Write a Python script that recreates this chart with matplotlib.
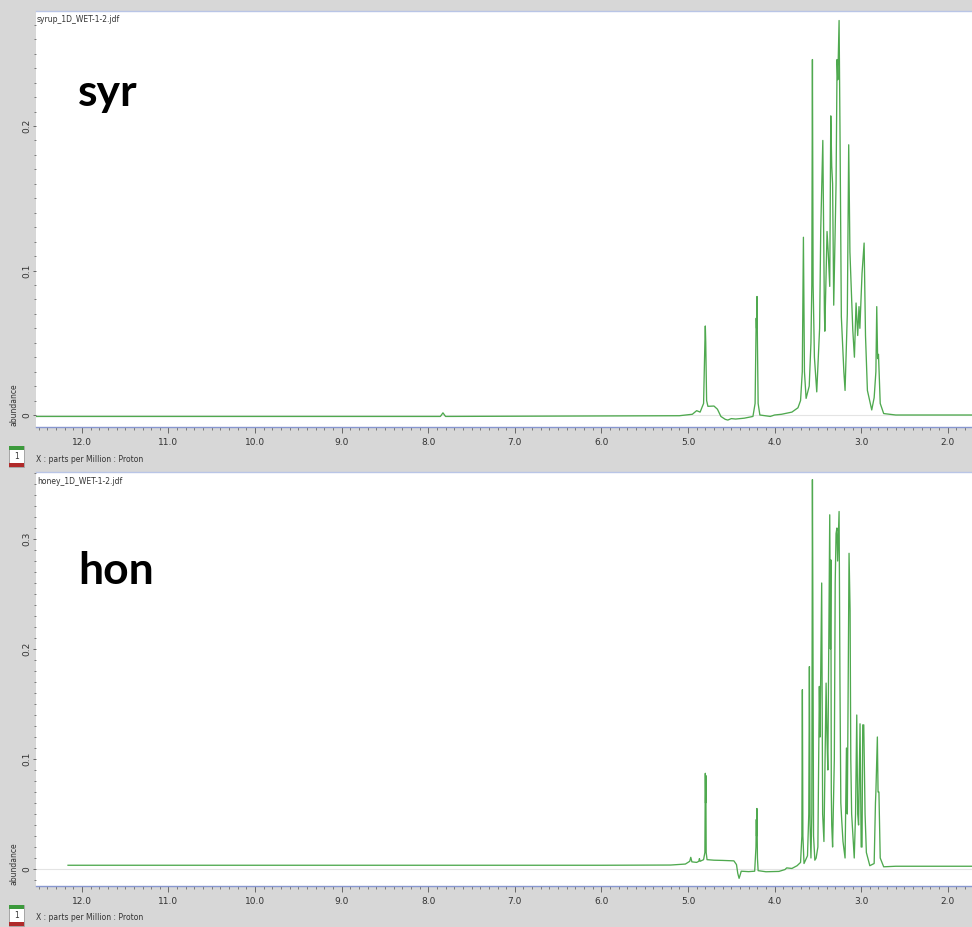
import matplotlib.pyplot as plt
from matplotlib.patches import Rectangle
from matplotlib.ticker import MultipleLocator

plt.rcParams['font.family'] = ['Liberation Sans Narrow', 'DejaVu Sans']

# syrup spectrum, vertices (ppm, abundance)
syr_ppm = [12.53, 7.86, 7.83, 7.80, 5.10, 4.95, 4.90, 4.86, 4.82, 4.805, 4.80, 4.795,
           4.785, 4.77, 4.70, 4.66, 4.62, 4.57, 4.54, 4.50, 4.45, 4.35, 4.25, 4.225,
           4.215, 4.212, 4.208, 4.203, 4.198, 4.19, 4.17, 4.05, 4.00, 3.92, 3.80, 3.73,
           3.70, 3.68, 3.667, 3.655, 3.636, 3.60, 3.58, 3.57, 3.563, 3.555, 3.54, 3.513,
           3.48, 3.467, 3.443, 3.425, 3.42, 3.394, 3.38, 3.363, 3.351, 3.34, 3.33, 3.317,
           3.29, 3.278, 3.27, 3.255, 3.245, 3.229, 3.20, 3.186, 3.16, 3.144, 3.135, 3.13,
           3.097, 3.078, 3.059, 3.04, 3.025, 3.015, 2.99, 2.966, 2.95, 2.928, 2.878, 2.85,
           2.83, 2.82, 2.81, 2.80, 2.78, 2.74, 2.60, 1.72]
syr_abund = [-0.001, -0.001, 0.0015, -0.001, -0.0005, 0.0005, 0.003, 0.002, 0.008, 0.050,
             0.0616, 0.050, 0.010, 0.006, 0.0062, 0.004, -0.001, -0.003, -0.0035, -0.0025,
             -0.0028, -0.0022, -0.001, 0.008, 0.055, 0.067, 0.060, 0.082, 0.050, 0.008,
             0.0, -0.001, 0.0, 0.0005, 0.002, 0.005, 0.010, 0.030, 0.123, 0.030, 0.0115,
             0.020, 0.050, 0.090, 0.246, 0.090, 0.040, 0.016, 0.060, 0.128, 0.190, 0.073,
             0.058, 0.127, 0.112, 0.089, 0.207, 0.172, 0.160, 0.076, 0.160, 0.246, 0.232,
             0.273, 0.200, 0.068, 0.030, 0.017, 0.070, 0.187, 0.140, 0.113, 0.059, 0.040,
             0.0775, 0.055, 0.075, 0.060, 0.098, 0.119, 0.055, 0.017, 0.0035, 0.012, 0.030,
             0.075, 0.039, 0.042, 0.008, 0.001, 0.0, 0.0]

# honey spectrum
hon_ppm = [12.16, 6.00, 5.20, 5.03, 4.98, 4.968, 4.955, 4.90, 4.875, 4.868, 4.86, 4.82,
           4.805, 4.80, 4.797, 4.794, 4.79, 4.78, 4.70, 4.60, 4.47, 4.44, 4.425, 4.41,
           4.40, 4.385, 4.30, 4.23, 4.215, 4.211, 4.208, 4.204, 4.198, 4.19, 4.10, 3.95,
           3.88, 3.86, 3.80, 3.74, 3.70, 3.685, 3.679, 3.673, 3.66, 3.62, 3.605, 3.598,
           3.59, 3.58, 3.57, 3.563, 3.558, 3.55, 3.535, 3.52, 3.50, 3.483, 3.475, 3.456,
           3.445, 3.43, 3.405, 3.395, 3.385, 3.363, 3.355, 3.35, 3.345, 3.34, 3.33, 3.31,
           3.30, 3.29, 3.28, 3.272, 3.255, 3.245, 3.235, 3.225, 3.21, 3.186, 3.17, 3.16,
           3.14, 3.128, 3.12, 3.11, 3.08, 3.065, 3.051, 3.04, 3.03, 3.013, 3.00, 2.99,
           2.982, 2.97, 2.955, 2.94, 2.90, 2.85, 2.835, 2.83, 2.813, 2.805, 2.795, 2.78,
           2.74, 2.60, 1.72]
hon_abund = [0.0034, 0.0034, 0.0036, 0.0045, 0.0070, 0.0106, 0.0065, 0.0060, 0.0070, 0.0094,
             0.0070, 0.0085, 0.015, 0.087, 0.060, 0.085, 0.015, 0.0085, 0.008, 0.0078,
             0.0074, 0.004, -0.004, -0.0085, -0.006, -0.002, -0.0024, -0.002, 0.020, 0.045,
             0.030, 0.055, 0.010, -0.0015, -0.0025, -0.0022, -0.0005, 0.001, 0.0005, 0.003,
             0.006, 0.030, 0.163, 0.030, 0.005, 0.012, 0.050, 0.184, 0.040, 0.010, 0.050,
             0.354, 0.240, 0.030, 0.008, 0.010, 0.020, 0.166, 0.120, 0.260, 0.050, 0.025,
             0.169, 0.120, 0.090, 0.322, 0.200, 0.281, 0.070, 0.040, 0.020, 0.100, 0.260,
             0.305, 0.310, 0.280, 0.325, 0.170, 0.060, 0.045, 0.025, 0.010, 0.110, 0.050,
             0.287, 0.235, 0.100, 0.050, 0.010, 0.050, 0.140, 0.050, 0.040, 0.132, 0.020,
             0.020, 0.131, 0.131, 0.050, 0.015, 0.003, 0.005, 0.060, 0.070, 0.120, 0.070,
             0.070, 0.010, 0.002, 0.0025, 0.0025]

x_ticks = [12.0, 11.0, 10.0, 9.0, 8.0, 7.0, 6.0, 5.0, 4.0, 3.0, 2.0]
x_labels = ['12.0', '11.0', '10.0', '9.0', '8.0', '7.0', '6.0', '5.0', '4.0', '3.0', '2.0']
syr_yticks = [0, 0.1, 0.2]
syr_ylabels = ['0', '0.1', '0.2']
hon_yticks = [0, 0.1, 0.2, 0.3]
hon_ylabels = ['0', '0.1', '0.2', '0.3']

W, H = 972, 927
GRAY = '#d7d7d7'
GREEN = '#4fa94f'

fig = plt.figure(figsize=(W / 100, H / 100), dpi=100, facecolor=GRAY)


def fx(px):
    return px / W


def fy(py):
    # pixel row from the top -> figure fraction
    return 1 - py / H


def icon(top):
    # the little green / white / red "1" box
    fig.patches.append(Rectangle((fx(9), fy(top + 21)), fx(15), 21 / H, transform=fig.transFigure,
                                 facecolor='white', edgecolor='#9a9a9a', lw=0.6))
    fig.patches.append(Rectangle((fx(9), fy(top + 4)), fx(15), 4 / H, transform=fig.transFigure,
                                 facecolor='#3c9a3c', edgecolor='none'))
    fig.patches.append(Rectangle((fx(9), fy(top + 21)), fx(15), 4 / H, transform=fig.transFigure,
                                 facecolor='#b02a2a', edgecolor='none'))
    fig.text(fx(16.5), fy(top + 11), '1', fontsize=5.5, ha='center', va='center', color='#333333')


def panel(top, bottom, zero_px, px_per_tenth, ppm, ab, yticks, ylabels, fname, tag, tag_base):
    ax = fig.add_axes([fx(36), fy(bottom), fx(936), (bottom - top) / H])
    ax.set_facecolor('white')
    ax.axhline(0, color='#e4e4e4', lw=0.8, zorder=1)
    ax.plot(ppm, ab, color=GREEN, lw=0.95, zorder=2)

    ax.set_xlim(12.53, 1.72)
    scale = px_per_tenth / 0.1
    ax.set_ylim(-(bottom - zero_px) / scale, (zero_px - top) / scale)

    ax.set_xticks(x_ticks)
    ax.set_xticklabels(x_labels)
    ax.xaxis.set_minor_locator(MultipleLocator(0.1))
    ax.set_yticks(yticks)
    ax.set_yticklabels(ylabels, rotation=90, va='center')
    ax.yaxis.set_minor_locator(MultipleLocator(0.01))

    ax.tick_params(axis='x', which='major', direction='out', length=4, width=0.6,
                   color='#555555', labelsize=6.5, labelcolor='#333333', pad=4)
    ax.tick_params(axis='x', which='minor', direction='out', length=2.2, width=0.5, color='#555555')
    ax.tick_params(axis='y', which='major', direction='out', length=2.5, width=0.6,
                   color='#555555', labelsize=6.5, labelcolor='#333333', pad=1)
    ax.tick_params(axis='y', which='minor', direction='out', length=1.5, width=0.5, color='#555555')

    for side in ['left', 'right']:
        ax.spines[side].set_visible(False)
    ax.spines['bottom'].set_color('#8796cf')
    ax.spines['bottom'].set_linewidth(1.0)
    ax.spines['top'].set_color('#b9c5e6')
    ax.spines['top'].set_linewidth(1.0)

    fig.text(fx(37), fy(top + 9), fname, fontsize=5.5, ha='left', va='center', color='#333333')
    fig.text(fx(78), fy(tag_base), tag, fontsize=32, fontweight='bold', family='Lato',
             ha='left', va='baseline', color='black')
    fig.text(fx(14), fy(bottom - 22), 'abundance', fontsize=5.5, rotation=90,
             ha='center', va='center', color='#333333')
    fig.text(fx(36), fy(bottom + 32), 'X : parts per Million : Proton', fontsize=5.5,
             ha='left', va='center', color='#333333')
    icon(bottom + 19)
    return ax


panel(11, 427, 415, 144.5, syr_ppm, syr_abund, syr_yticks, syr_ylabels,
      'syrup_1D_WET-1-2.jdf', 'syr', 106)
panel(472, 886, 869, 110, hon_ppm, hon_abund, hon_yticks, hon_ylabels,
      'honey_1D_WET-1-2.jdf', 'hon', 584)

fig.savefig('out.png', dpi=100, facecolor=GRAY)
